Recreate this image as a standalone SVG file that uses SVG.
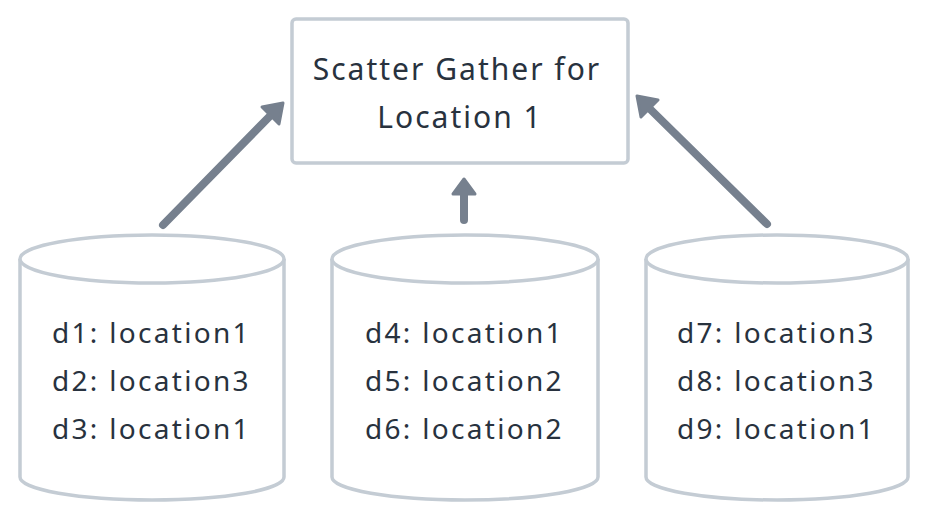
<svg xmlns="http://www.w3.org/2000/svg" width="928" height="520" viewBox="0 0 928 520">
<style>
.shape{fill:#fff;stroke:#c4ccd4;stroke-width:3.5}
.t{font-family:"Noto Sans","Liberation Sans",sans-serif;fill:#28323e;font-size:28px;letter-spacing:2.3px}
.ti{font-size:30px;letter-spacing:2.0px}
.c{stroke:#76808e;stroke-width:8;stroke-linecap:round;fill:none}
.h{fill:#76808e;stroke:#76808e;stroke-width:3;stroke-linejoin:round}
</style>
<rect width="928" height="520" fill="#fff"/>
<g id="gather">
<rect class="shape" x="292" y="19" width="336" height="144" rx="4"/>
<text class="t ti" x="457" y="80" text-anchor="middle">Scatter Gather for</text>
<text class="t ti" x="460" y="128" text-anchor="middle">Location 1</text>
</g>
<g id="db1">
<path class="shape" d="M20,259 L20,477 A132,23 0 0 0 284,477 L284,259"/>
<ellipse class="shape" cx="152" cy="259" rx="132" ry="24"/>
<text class="t" x="52" y="343">d1: location1</text>
<text class="t" x="52" y="391">d2: location3</text>
<text class="t" x="52" y="439">d3: location1</text>
</g>
<g id="db2">
<path class="shape" d="M332,259 L332,477 A133,23 0 0 0 598,477 L598,259"/>
<ellipse class="shape" cx="465" cy="259" rx="133" ry="24"/>
<text class="t" x="365" y="343">d4: location1</text>
<text class="t" x="365" y="391">d5: location2</text>
<text class="t" x="365" y="439">d6: location2</text>
</g>
<g id="db3">
<path class="shape" d="M646,259 L646,477 A131,23 0 0 0 908,477 L908,259"/>
<ellipse class="shape" cx="777" cy="259" rx="131" ry="24"/>
<text class="t" x="677" y="343">d7: location3</text>
<text class="t" x="677" y="391">d8: location3</text>
<text class="t" x="677" y="439">d9: location1</text>
</g>
<g id="connectors">
<line class="c" x1="163" y1="225" x2="270" y2="116"/>
<polygon class="h" points="283,103 279,124 262,107"/>
<line class="c" x1="464" y1="220" x2="464" y2="192"/>
<polygon class="h" points="464,179 475,194 453,194"/>
<line class="c" x1="767" y1="224" x2="649" y2="108"/>
<polygon class="h" points="637,96 658,100 641,117"/>
</g>
</svg>
